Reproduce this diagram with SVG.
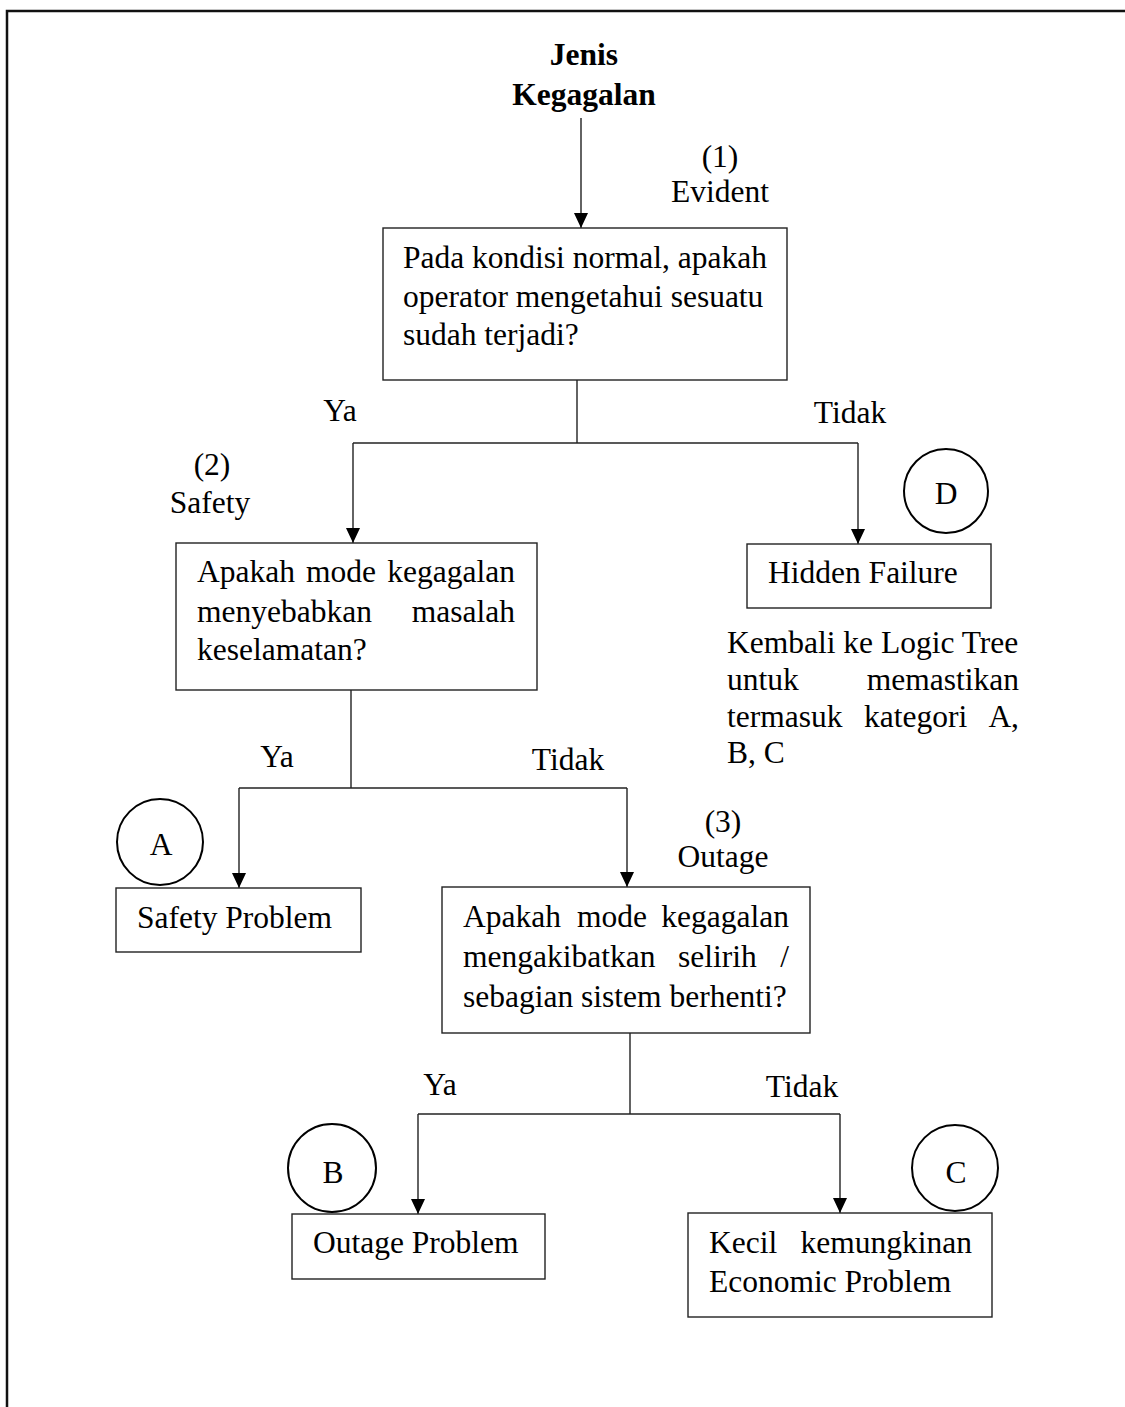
<svg xmlns="http://www.w3.org/2000/svg" width="1125" height="1407" viewBox="0 0 1125 1407">
<style>
text{font-family:"Liberation Serif","Times New Roman",serif;font-size:31.5px;fill:#000}
.b{font-weight:bold}
.m{text-anchor:middle}
.e{text-anchor:end}
.box{fill:#fff;stroke:#222;stroke-width:1.4}
.circ{fill:#fff;stroke:#000;stroke-width:2}
.ln{fill:none;stroke:#222;stroke-width:1.4}
</style>
<defs>
<marker id="ah" markerUnits="userSpaceOnUse" markerWidth="16" markerHeight="16" viewBox="0 0 16 16" refX="15" refY="8" orient="auto">
<path d="M0,1 L15,8 L0,15 Z" fill="#000"/>
</marker>
</defs>
<rect width="1125" height="1407" fill="#fff"/>
<path d="M7,1407 V11 H1125" fill="none" stroke="#111" stroke-width="2.5"/>

<g id="connectors">
<line class="ln" x1="581" y1="118" x2="581" y2="228" marker-end="url(#ah)"/>
<path class="ln" d="M577,380 V443"/>
<path class="ln" d="M353,443 H858"/>
<line class="ln" x1="353" y1="443" x2="353" y2="543" marker-end="url(#ah)"/>
<line class="ln" x1="858" y1="443" x2="858" y2="544" marker-end="url(#ah)"/>
<path class="ln" d="M351,690 V788"/>
<path class="ln" d="M239,788 H627"/>
<line class="ln" x1="239" y1="788" x2="239" y2="888" marker-end="url(#ah)"/>
<line class="ln" x1="627" y1="788" x2="627" y2="887" marker-end="url(#ah)"/>
<path class="ln" d="M630,1033 V1114"/>
<path class="ln" d="M418,1114 H840"/>
<line class="ln" x1="418" y1="1114" x2="418" y2="1214" marker-end="url(#ah)"/>
<line class="ln" x1="840" y1="1114" x2="840" y2="1213" marker-end="url(#ah)"/>
</g>

<g id="labels">
<text x="340" y="421" class="m">Ya</text>
<text x="850" y="423" class="m">Tidak</text>
<text x="720" y="167" class="m">(1)</text>
<text x="720" y="202" class="m">Evident</text>
<text x="212" y="475" class="m">(2)</text>
<text x="210" y="513" class="m">Safety</text>
<text x="277" y="767" class="m">Ya</text>
<text x="568" y="770" class="m">Tidak</text>
<text x="723" y="832" class="m">(3)</text>
<text x="723" y="867" class="m">Outage</text>
<text x="440" y="1095" class="m">Ya</text>
<text x="802" y="1097" class="m">Tidak</text>
</g>

<g id="start">
<text x="584" y="65" class="b m">Jenis</text>
<text x="584" y="105" class="b m">Kegagalan</text>
</g>

<g id="q1">
<rect class="box" x="383" y="228" width="404" height="152"/>
<text x="403" y="268">Pada kondisi normal, apakah</text>
<text x="403" y="307">operator mengetahui sesuatu</text>
<text x="403" y="345">sudah terjadi?</text>
</g>

<g id="q2">
<rect class="box" x="176" y="543" width="361" height="147"/>
<text x="197" y="582">Apakah</text><text x="306" y="582">mode</text><text x="515" y="582" class="e">kegagalan</text>
<text x="197" y="622">menyebabkan</text><text x="515" y="622" class="e">masalah</text>
<text x="197" y="660">keselamatan?</text>
</g>

<g id="hidden">
<rect class="box" x="747" y="544" width="244" height="64"/>
<text x="768" y="583">Hidden Failure</text>
</g>
<g id="circleD">
<circle class="circ" cx="946" cy="491" r="42"/>
<text x="946" y="504" class="m">D</text>
</g>
<g id="note">
<text x="727" y="653">Kembali ke Logic Tree</text>
<text x="727" y="690">untuk</text><text x="1019" y="690" class="e">memastikan</text>
<text x="727" y="727">termasuk</text><text x="864" y="727">kategori</text><text x="1019" y="727" class="e">A,</text>
<text x="727" y="763">B, C</text>
</g>

<g id="safety">
<rect class="box" x="116" y="888" width="245" height="64"/>
<text x="137" y="928">Safety Problem</text>
</g>
<g id="circleA">
<circle class="circ" cx="160" cy="842" r="43"/>
<text x="161" y="855" class="m">A</text>
</g>

<g id="q3">
<rect class="box" x="442" y="887" width="368" height="146"/>
<text x="463" y="927">Apakah</text><text x="577" y="927">mode</text><text x="789" y="927" class="e">kegagalan</text>
<text x="463" y="967">mengakibatkan</text><text x="678" y="967">selirih</text><text x="789" y="967" class="e">/</text>
<text x="463" y="1007">sebagian sistem berhenti?</text>
</g>

<g id="outage">
<rect class="box" x="292" y="1214" width="253" height="65"/>
<text x="313" y="1253">Outage Problem</text>
</g>
<g id="circleB">
<circle class="circ" cx="332" cy="1168" r="44"/>
<text x="333" y="1183" class="m">B</text>
</g>

<g id="economic">
<rect class="box" x="688" y="1213" width="304" height="104"/>
<text x="709" y="1253">Kecil</text><text x="972" y="1253" class="e">kemungkinan</text>
<text x="709" y="1292">Economic Problem</text>
</g>
<g id="circleC">
<circle class="circ" cx="955" cy="1168" r="43"/>
<text x="956" y="1183" class="m">C</text>
</g>
</svg>
